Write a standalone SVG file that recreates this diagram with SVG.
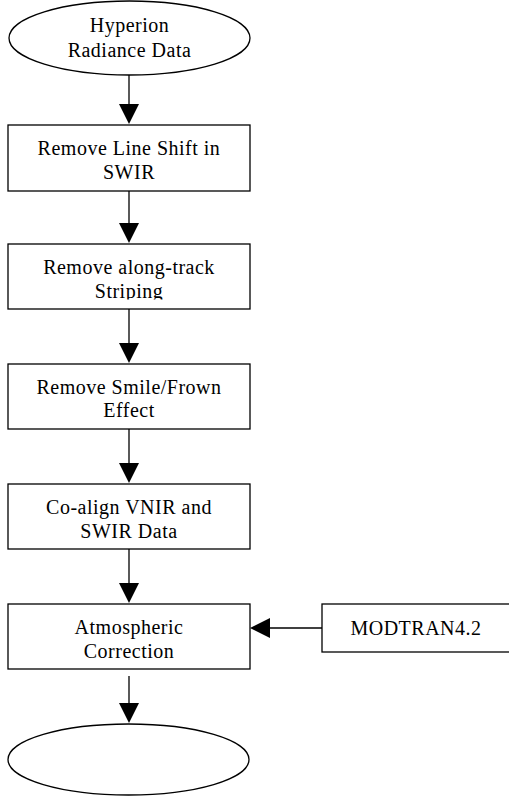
<svg xmlns="http://www.w3.org/2000/svg" width="509" height="796" viewBox="0 0 509 796">
<style>
.shape{fill:#fff;stroke:#000;stroke-width:1.3}
.lbl{font-family:"Liberation Serif","Times New Roman",serif;font-size:20px;letter-spacing:0.5px;text-anchor:middle;fill:#000}
.conn{stroke:#000;stroke-width:1.3;fill:none}
.head{fill:#000}
</style>
<defs>
<clipPath id="clipStrip"><rect x="0" y="244" width="260" height="55.5"/></clipPath>
</defs>
<rect width="509" height="796" fill="#fff"/>
<g id="n_start">
<ellipse class="shape" cx="129.5" cy="38" rx="120.5" ry="37"/>
<text class="lbl" x="129.5" y="32">Hyperion</text>
<text class="lbl" x="129.5" y="57">Radiance Data</text>
</g>
<g id="n_lineshift">
<rect class="shape" x="8" y="125" width="242" height="66"/>
<text class="lbl" x="129" y="155">Remove Line Shift in</text>
<text class="lbl" x="129" y="179">SWIR</text>
</g>
<g id="n_striping">
<rect class="shape" x="8" y="244" width="242" height="65"/>
<text class="lbl" x="129" y="274">Remove along-track</text>
<text class="lbl" x="129" y="298" clip-path="url(#clipStrip)">Striping</text>
</g>
<g id="n_smile">
<rect class="shape" x="8" y="364" width="242" height="65"/>
<text class="lbl" x="129" y="394">Remove Smile/Frown</text>
<text class="lbl" x="129" y="417">Effect</text>
</g>
<g id="n_coalign">
<rect class="shape" x="8" y="484" width="242" height="65"/>
<text class="lbl" x="129" y="514">Co-align VNIR and</text>
<text class="lbl" x="129" y="538">SWIR Data</text>
</g>
<g id="n_atmos">
<rect class="shape" x="8" y="604" width="242" height="65"/>
<text class="lbl" x="129" y="634">Atmospheric</text>
<text class="lbl" x="129" y="658">Correction</text>
</g>
<g id="n_modtran">
<rect class="shape" x="322" y="604" width="192" height="48"/>
<text class="lbl" x="416" y="635">MODTRAN4.2</text>
</g>
<g id="n_end">
<ellipse class="shape" cx="128.5" cy="759.5" rx="120.5" ry="35.5"/>
</g>
<g id="connectors">
<line class="conn" x1="129" y1="75" x2="129" y2="105"/>
<polygon class="head" points="119,104 139,104 129,124"/>
<line class="conn" x1="129" y1="191" x2="129" y2="224"/>
<polygon class="head" points="119,223 139,223 129,243"/>
<line class="conn" x1="129" y1="309" x2="129" y2="344"/>
<polygon class="head" points="119,343 139,343 129,363"/>
<line class="conn" x1="129" y1="429" x2="129" y2="464"/>
<polygon class="head" points="119,463 139,463 129,483"/>
<line class="conn" x1="129" y1="549" x2="129" y2="584"/>
<polygon class="head" points="119,583 139,583 129,603"/>
<line class="conn" x1="129" y1="676" x2="129" y2="704"/>
<polygon class="head" points="119,703 139,703 129,723"/>
<line class="conn" x1="322" y1="628" x2="269" y2="628"/>
<polygon class="head" points="270,618 270,638 250,628"/>
</g>
</svg>
